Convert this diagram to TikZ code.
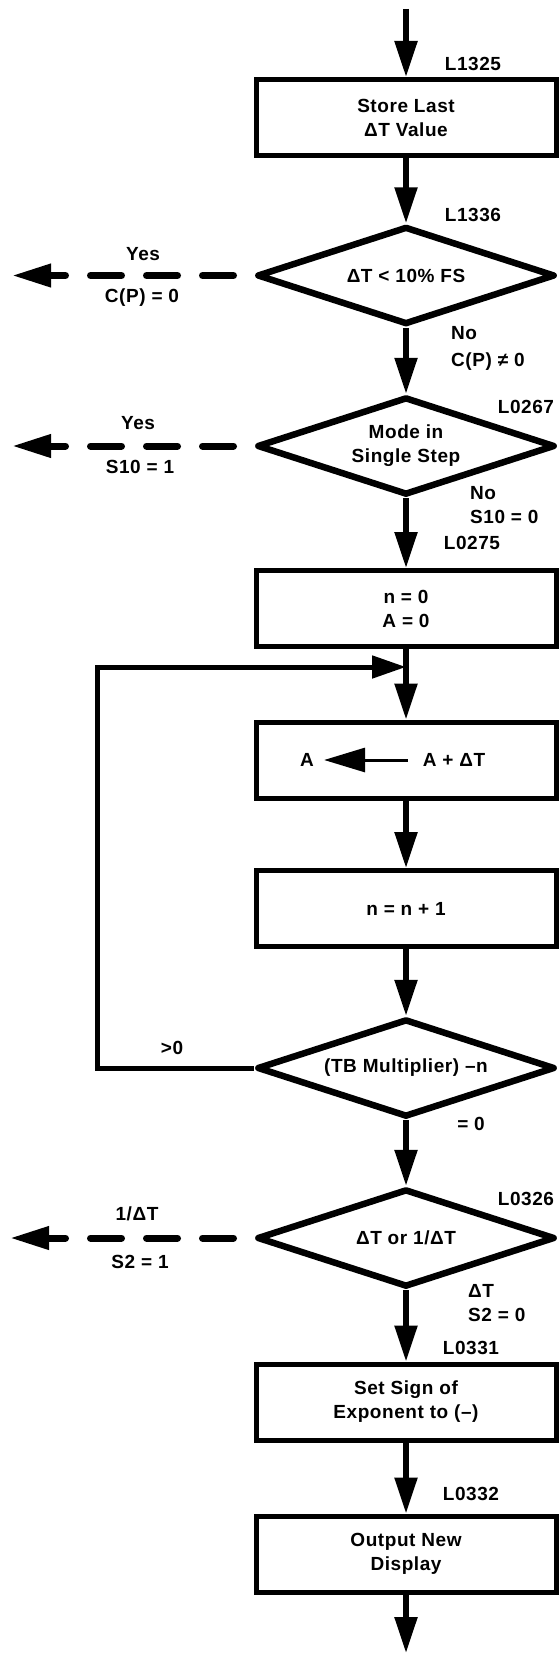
\documentclass[tikz,border=0pt]{standalone}
\usepackage{fontspec}
\setmainfont{Liberation Sans}[LetterSpace=3]
\usetikzlibrary{shapes.geometric,arrows.meta}
\begin{document}
\begin{tikzpicture}[x=1pt,y=-1pt,
  every node/.style={font=\bfseries\fontsize{19}{24}\selectfont},
  procbox/.style={draw, line width=5pt, minimum width=300pt, minimum height=76pt, inner sep=0pt, align=center},
  decbox/.style={draw, shape=diamond, aspect=3.04, line width=6.5pt, line join=round, minimum width=298pt, minimum height=98pt, inner sep=0pt, align=center},
  lab/.style={inner sep=0pt, text height=13.6pt, text depth=0pt},
  flow/.style={line width=5.5pt, -{Triangle[length=36pt,width=22pt]}},
  loopline/.style={line width=5pt, line join=miter, -{Triangle[length=34pt,width=22pt]}},
  dashflow/.style={line width=7pt, line cap=round, dash pattern=on 31pt off 25pt, dash phase=35.75pt, -{Triangle[length=39pt,width=22pt]}},
  thinflow/.style={line width=3pt, -{Triangle[length=41pt,width=24pt]}},
]
\useasboundingbox (0,0) rectangle (559,1654);

% main nodes
\node[procbox] (b1) at (406,117.5) {Store Last\\ΔT Value};
\node[decbox] (d1) at (406,275.5) {ΔT < 10\% FS};
\node[decbox] (d2) at (406,446) {Mode in\\Single Step};
\node[procbox] (b2) at (406,608.5) {n = 0\\A = 0};
\node[procbox] (b3) at (406,760) {};
\node[lab] (aL) at (307,760) {A};
\node[lab] (aR) at (454,760) {A + ΔT};
\node[procbox] (b4) at (406,908.5) {n = n + 1};
\node[decbox] (d3) at (406,1068) {(TB Multiplier) –n};
\node[decbox] (d4) at (406,1238) {ΔT or 1/ΔT};
\node[procbox] (b5) at (406,1402) {Set Sign of\\Exponent to (–)};
\node[procbox] (b6) at (406,1554) {Output New\\Display};

% labels right
\node[lab] (l1) at (473,64) {L1325};
\node[lab] (l2) at (473,215) {L1336};
\node[lab,anchor=west] (no1) at (451,333) {No};
\node[lab,anchor=west] (cp1) at (451,360) {C(P) ≠ 0};
\node[lab] (l3) at (526,407) {L0267};
\node[lab,anchor=west] (no2) at (470,493) {No};
\node[lab,anchor=west] (s10b) at (470,517) {S10 = 0};
\node[lab] (l4) at (472,543) {L0275};
\node[lab] (gt) at (172,1048) {>0};
\node[lab] (eq0) at (471,1124) {= 0};
\node[lab] (l5) at (526,1199) {L0326};
\node[lab,anchor=west] (dt) at (468,1291) {ΔT};
\node[lab,anchor=west] (s2b) at (468,1315) {S2 = 0};
\node[lab] (l6) at (471,1348) {L0331};
\node[lab] (l7) at (471,1494) {L0332};

% labels left
\node[lab] (yes1) at (143,254) {Yes};
\node[lab] (cp0) at (142,296) {C(P) = 0};
\node[lab] (yes2) at (138,423) {Yes};
\node[lab] (s10a) at (140,467) {S10 = 1};
\node[lab] (inv) at (137,1214) {1/ΔT};
\node[lab] (s2a) at (140,1262) {S2 = 1};

% coordinates
\coordinate (top) at (406,9);
\coordinate (bot) at (406,1653);
\coordinate (j) at (406,667);
\coordinate (lc) at (97,667);
\coordinate (e1) at (12,275.5);
\coordinate (e2) at (12,446);
\coordinate (e3) at (10,1238);

% connectors
\draw[flow] (top) -- (b1.north);
\draw[flow] (b1.south) -- (d1.north);
\draw[flow] (d1.south) -- (d2.north);
\draw[flow] (d2.south) -- (b2.north);
\draw[flow] (b2.south) -- (b3.north);
\draw[flow] (b3.south) -- (b4.north);
\draw[flow] (b4.south) -- (d3.north);
\draw[flow] (d3.south) -- (d4.north);
\draw[flow] (d4.south) -- (b5.north);
\draw[flow] (b5.south) -- (b6.north);
\draw[flow] (b6.south) -- (bot);
\draw[loopline] (d3.west) -| (lc) -- (j);
\draw[dashflow] (d1.west) -- (e1);
\draw[dashflow] (d2.west) -- (e2);
\draw[dashflow] (d4.west) -- (e3);
\draw[thinflow, shorten <=15pt, shorten >=10pt] (aR.west) -- (aL.east);
\end{tikzpicture}
\end{document}
